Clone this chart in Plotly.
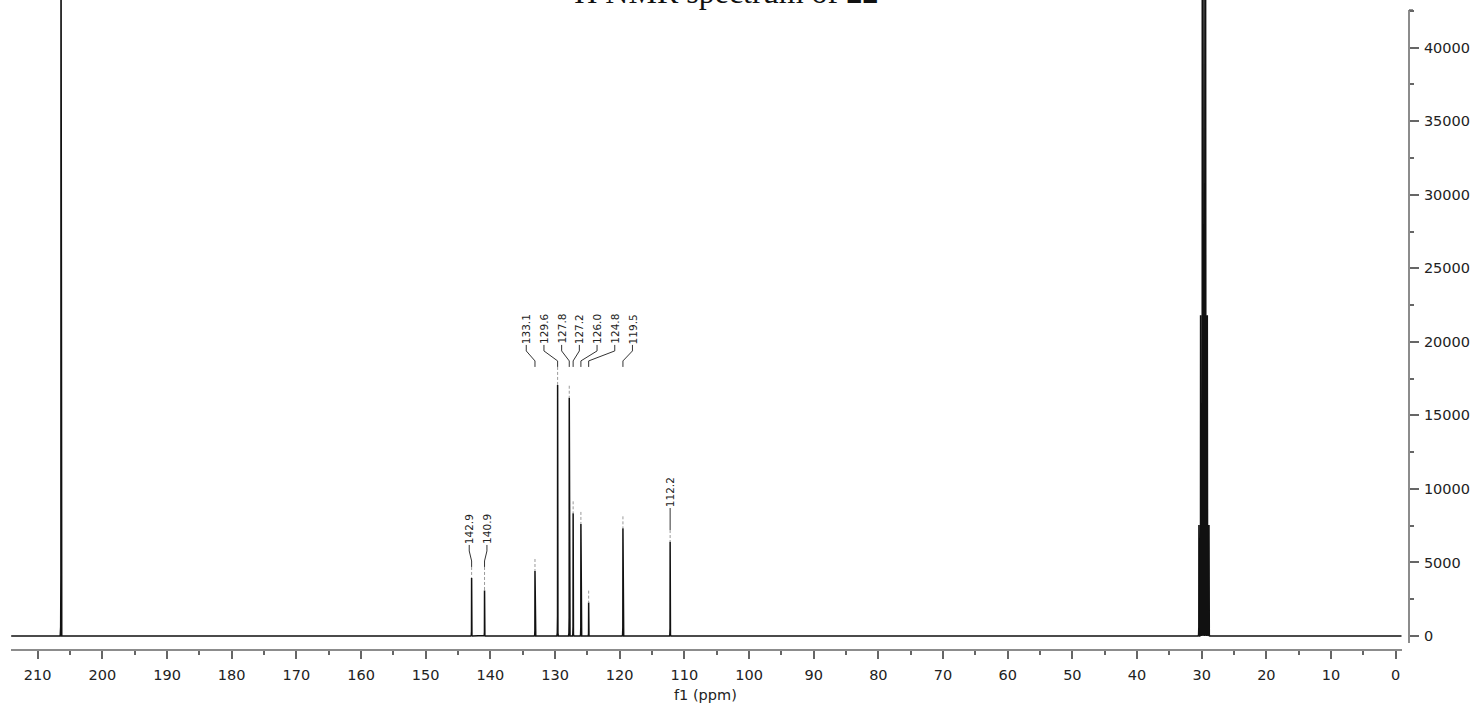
import plotly.graph_objects as go

# ---------------- data ----------------
TITLE = "<sup>1</sup>H NMR spectrum of <b>22</b>"
X_LABEL = "f1 (ppm)"
X_TICK_VALUES = [210, 200, 190, 180, 170, 160, 150, 140, 130, 120, 110,
                 100, 90, 80, 70, 60, 50, 40, 30, 20, 10, 0]
Y_TICK_VALUES = [0, 5000, 10000, 15000, 20000, 25000, 30000, 35000, 40000]

# labelled signals
PEAK_PPM = [142.9, 140.9, 133.1, 129.6, 127.8, 127.2, 126.0, 124.8, 119.5, 112.2]
PEAK_HEIGHT = [3950, 3100, 4420, 17070, 16200, 8340, 7620, 2270, 7320, 6410]
PEAK_LABEL = ["142.9", "140.9", "133.1", "129.6", "127.8", "127.2",
              "126.0", "124.8", "119.5", "112.2"]

# solvent signals (acetone-d6 C=O and CD3 septet), not labelled
SOLVENT_PPM = [206.4, 30.43, 30.17, 29.91, 29.65, 29.39, 29.13, 28.87]
SOLVENT_HEIGHT = [52000, 7550, 21800, 43600, 50800, 43600, 21800, 7550]

SPECTRUM_START = 214.1
SPECTRUM_END = -0.9

# ---------------- layout / style ----------------
W, H = 1470, 704
M_L, M_R, M_T, M_B = 11, 61, 0, 54
X_RANGE = [214.13, -2.06]
Y_RANGE = [-952, 43242]
PLOT_W = W - M_L - M_R
PLOT_H = H - M_T - M_B
PPM_PER_PX = (X_RANGE[0] - X_RANGE[1]) / PLOT_W
UNIT_PER_PX = (Y_RANGE[1] - Y_RANGE[0]) / PLOT_H

# peak line-shape template (offset ppm, fraction of height)
PROFILE = [(-0.12, 0.0), (-0.05, 0.012), (-0.015, 0.08), (0.0, 1.0),
           (0.015, 0.08), (0.05, 0.012), (0.12, 0.0)]

# label groups: indices into PEAK_*, bottom of label text (value units), px shift
LABEL_GROUPS = [[0, 1], [2, 3, 4, 5, 6, 7, 8], [9]]
GROUP_TEXT_BOTTOM = [6190, 19790, 8700]
GROUP_SHIFT_PX = [0, 4, 0]
LABEL_SPACING_PX = 17.7
LEAD_V1, LEAD_DIAG, LEAD_V2 = 6, 10, 6     # px
CONNECT_FULL_PX = 30
CONNECT_SHORT_PX = 12

FONT = "DejaVu Sans"
AXIS_COLOR = "#666666"
TEXT_COLOR = "#222222"

# ---------------- spectrum trace ----------------
all_peaks = sorted(zip(PEAK_PPM + SOLVENT_PPM, PEAK_HEIGHT + SOLVENT_HEIGHT),
                   key=lambda t: -t[0])
sx = [SPECTRUM_START]
sy = [0]
for p, h in all_peaks:
    for off, frac in PROFILE:
        sx.append(p - off)
        sy.append(h * frac)
sx.append(SPECTRUM_END)
sy.append(0)

fig = go.Figure()
fig.add_trace(go.Scatter(x=sx, y=sy, mode="lines",
                         line=dict(color="#111111", width=1.5),
                         hoverinfo="skip", showlegend=False))

# ---------------- labels and leaders ----------------
lead_x, lead_y = [], []
con_x, con_y = [], []
annotations = []
for grp, ybot, shift in zip(LABEL_GROUPS, GROUP_TEXT_BOTTOM, GROUP_SHIFT_PX):
    n = len(grp)
    center = sum(PEAK_PPM[i] for i in grp) / n - shift * PPM_PER_PX
    step = LABEL_SPACING_PX * PPM_PER_PX
    for k, i in enumerate(grp):
        lx = center + (n - 1) / 2 * step - k * step
        px = PEAK_PPM[i]
        y1 = ybot - LEAD_V1 * UNIT_PER_PX
        y2 = y1 - LEAD_DIAG * UNIT_PER_PX
        y3 = y2 - LEAD_V2 * UNIT_PER_PX
        lead_x += [lx, lx, px, px, None]
        lead_y += [ybot, y1, y2, y3, None]
        top = PEAK_HEIGHT[i]
        gap_px = (y3 - top) / UNIT_PER_PX
        start = y3 if gap_px <= CONNECT_FULL_PX else top + CONNECT_SHORT_PX * UNIT_PER_PX
        con_x += [px, px, None]
        con_y += [start, top, None]
        annotations.append(dict(
            x=lx, y=ybot, xref="x", yref="y", text=PEAK_LABEL[i],
            textangle=-90, showarrow=False, xanchor="center", yanchor="bottom",
            font=dict(family=FONT, size=10.5, color=TEXT_COLOR), borderpad=0))

fig.add_trace(go.Scatter(x=lead_x, y=lead_y, mode="lines",
                         line=dict(color="#333333", width=1),
                         hoverinfo="skip", showlegend=False))
fig.add_trace(go.Scatter(x=con_x, y=con_y, mode="lines",
                         line=dict(color="#9a9a9a", width=1, dash="3px,2px"),
                         hoverinfo="skip", showlegend=False))

# title (cut off at top of the page) and x-axis title
annotations.append(dict(
    x=(720 - M_L) / PLOT_W, y=1, xref="paper", yref="paper", text=TITLE,
    showarrow=False, xanchor="center", yanchor="bottom", yshift=-12,
    font=dict(family="Liberation Serif", size=32, color="#111111")))
annotations.append(dict(
    x=(705 - M_L) / PLOT_W, y=0, xref="paper", yref="paper", text=X_LABEL,
    showarrow=False, xanchor="center", yanchor="middle", yshift=-45,
    font=dict(family=FONT, size=14.5, color=TEXT_COLOR)))

# axis lines as shapes (offset style)
shapes = [
    dict(type="line", xref="paper", yref="paper", x0=0, x1=(1402 - M_L) / PLOT_W,
         y0=0, y1=0, line=dict(color=AXIS_COLOR, width=1.5)),
    dict(type="line", xref="paper", yref="y", x0=1, x1=1,
         y0=-476, y1=42560, line=dict(color=AXIS_COLOR, width=1.5)),
    dict(type="line", xref="paper", yref="y", x0=1, x1=1 + 4 / PLOT_W,
         y0=42560, y1=42560, line=dict(color=AXIS_COLOR, width=1.5)),
]

fig.update_layout(
    width=W, height=H,
    margin=dict(l=M_L, r=M_R, t=M_T, b=M_B, pad=0),
    paper_bgcolor="white", plot_bgcolor="white",
    showlegend=False,
    annotations=annotations,
    shapes=shapes,
    xaxis=dict(range=X_RANGE, tickvals=X_TICK_VALUES,
               ticktext=[str(v) for v in X_TICK_VALUES],
               showgrid=False, zeroline=False, showline=False,
               ticks="outside", ticklen=8, tickwidth=1.5, tickcolor=AXIS_COLOR,
               minor=dict(dtick=5, tick0=0, ticks="outside", ticklen=4,
                          tickwidth=1.5, tickcolor=AXIS_COLOR, showgrid=False),
               tickfont=dict(family=FONT, size=14.5, color=TEXT_COLOR),
               ticklabelstandoff=4),
    yaxis=dict(range=Y_RANGE, side="right", tickvals=Y_TICK_VALUES,
               ticktext=[str(v) for v in Y_TICK_VALUES],
               showgrid=False, zeroline=False, showline=False,
               ticks="outside", ticklen=9, tickwidth=1.5, tickcolor=AXIS_COLOR,
               minor=dict(dtick=2500, tick0=0, ticks="outside", ticklen=4,
                          tickwidth=1.5, tickcolor=AXIS_COLOR, showgrid=False),
               tickfont=dict(family=FONT, size=14.5, color=TEXT_COLOR),
               ticklabelstandoff=2),
)

fig.write_html("out.html",
               config={"displayModeBar": False},
               post_script="document.body.style.margin='0';"
                           "document.body.style.overflow='hidden';")
